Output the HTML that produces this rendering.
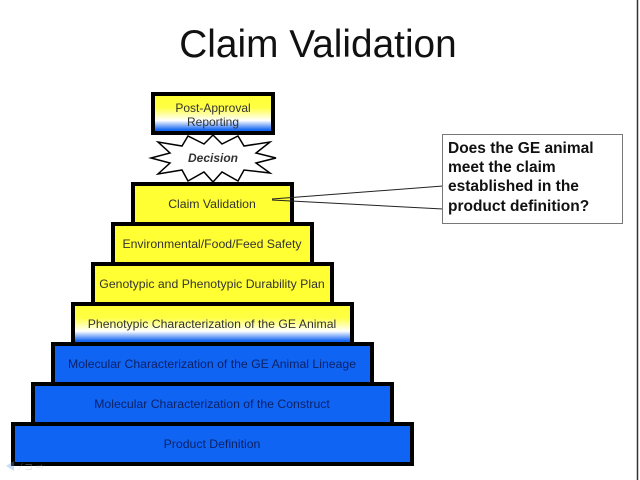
<!DOCTYPE html>
<html><head><meta charset="utf-8"><style>
html,body{margin:0;padding:0;background:#fff;}
svg{display:block;}
</style></head><body>
<svg width="640" height="480" viewBox="0 0 640 480" xmlns="http://www.w3.org/2000/svg">
<defs>
<linearGradient id="g1" x1="0" y1="0" x2="0" y2="1">
<stop offset="0" stop-color="#ffff33"/>
<stop offset="0.35" stop-color="#ffff44"/>
<stop offset="0.68" stop-color="#ffffff"/>
<stop offset="0.92" stop-color="#1466f2"/>
<stop offset="1" stop-color="#1064f4"/>
</linearGradient>
</defs>
<rect x="0" y="0" width="640" height="480" fill="#fff"/>
<line x1="637.5" y1="0" x2="637.5" y2="480" stroke="#333" stroke-width="1.5"/>
<text x="318" y="57" font-family="Liberation Sans, sans-serif" font-size="38.8" text-anchor="middle" fill="#111">Claim Validation</text>

<!-- Post-Approval -->
<rect x="153" y="94" width="120" height="39" fill="url(#g1)" stroke="#000" stroke-width="4"/>
<text x="213" y="112" font-family="Liberation Sans, sans-serif" font-size="12" text-anchor="middle" fill="#333">Post-Approval</text>
<text x="213" y="126" font-family="Liberation Sans, sans-serif" font-size="12" text-anchor="middle" fill="#333">Reporting</text>

<!-- Decision star -->
<polygon fill="#fff" stroke="#000" stroke-width="1.5" points="
276,158 256,163 270,173 244,170 238,181 222,172 213,182 204,172 188,181 182,170 158,174 170,163 151,158 170,153 158,142 182,146 188,136 204,144 213,135 222,144 238,136 244,146 270,142 256,153"/>
<text x="213" y="162" font-family="Liberation Sans, sans-serif" font-size="12" font-weight="bold" font-style="italic" text-anchor="middle" fill="#333">Decision</text>

<!-- Pyramid -->
<g font-family="Liberation Sans, sans-serif" font-size="12.25" text-anchor="middle">
<rect x="133" y="184" width="159" height="40" fill="#ffff33" stroke="#000" stroke-width="4"/>
<text x="212" y="208" fill="#333">Claim Validation</text>
<rect x="113" y="224" width="199" height="40" fill="#ffff33" stroke="#000" stroke-width="4"/>
<text x="212" y="248" fill="#333">Environmental/Food/Feed Safety</text>
<rect x="93" y="264" width="239" height="40" fill="#ffff33" stroke="#000" stroke-width="4"/>
<text x="212" y="288" fill="#333">Genotypic and Phenotypic Durability Plan</text>
<rect x="73" y="304" width="279" height="40" fill="url(#g1)" stroke="#000" stroke-width="4"/>
<text x="212" y="328" fill="#333">Phenotypic Characterization of the GE Animal</text>
<rect x="53" y="344" width="319" height="40" fill="#1064f4" stroke="#000" stroke-width="4"/>
<text x="212" y="368" fill="#0c2266">Molecular Characterization of the GE Animal Lineage</text>
<rect x="33" y="384" width="359" height="40" fill="#1064f4" stroke="#000" stroke-width="4"/>
<text x="212" y="408" fill="#0c2266">Molecular Characterization of the Construct</text>
<rect x="13" y="424" width="399" height="40" fill="#1064f4" stroke="#000" stroke-width="4"/>
<text x="212" y="448" fill="#0c2266">Product Definition</text>
</g>

<!-- Callout -->
<line x1="272" y1="199" x2="443" y2="186" stroke="#222" stroke-width="1"/>
<line x1="272" y1="200" x2="443" y2="209" stroke="#222" stroke-width="1"/>
<rect x="442.5" y="134.5" width="180" height="89" fill="#fff" stroke="#777" stroke-width="1"/>
<g font-family="Liberation Sans, sans-serif" font-size="15.5" font-weight="bold" fill="#111">
<text x="448" y="153">Does the GE animal</text>
<text x="448" y="172">meet the claim</text>
<text x="448" y="191">established in the</text>
<text x="448" y="211">product definition?</text>
</g>

<!-- faint nav icons -->
<g opacity="0.35" font-family="Liberation Sans, sans-serif" font-size="10">
<polygon points="6,466 14,461 14,471" fill="#6aa0e0"/>
<text x="20" y="470" fill="#bbb">⁄  ⊐  ⇨</text>
</g>
</svg>
</body></html>
